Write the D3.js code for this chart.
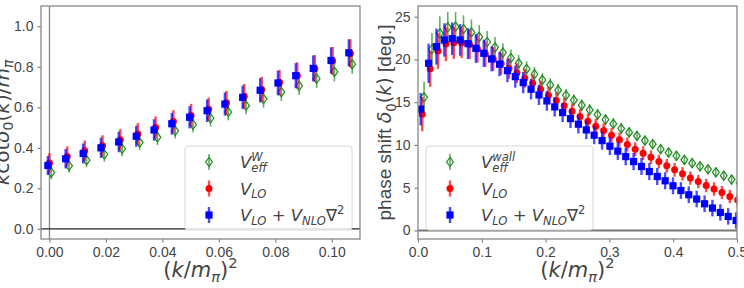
<!DOCTYPE html>
<html>
<head>
<meta charset="utf-8">
<script src="https://cdn.jsdelivr.net/npm/d3@7"></script>
<style>
body { margin: 0; background: #fff; }
svg text { font-family: "Liberation Sans", Arial, sans-serif; fill: #444; }
svg text.math { font-family: "DejaVu Sans", sans-serif; }
</style>
</head>
<body>
<svg id="chart" width="744" height="288"></svg>
<script>
// ---- left panel: k cot(delta_0)/m_pi vs (k/m_pi)^2
var k2Left = [0, 0.0063, 0.0125, 0.0188, 0.0251, 0.0313, 0.0376, 0.0439, 0.0502,
  0.0564, 0.0627, 0.069, 0.0752, 0.0815, 0.0878, 0.094, 0.1003, 0.1066]
var kcotWall = [0.278, 0.311, 0.339, 0.367, 0.395, 0.426, 0.452, 0.484, 0.515,
  0.546, 0.577, 0.608, 0.641, 0.675, 0.706, 0.741, 0.775, 0.813]
var kcotWallErr = [0.033, 0.034, 0.035, 0.035, 0.036, 0.037, 0.038, 0.038, 0.039,
  0.04, 0.041, 0.042, 0.043, 0.044, 0.045, 0.046, 0.047, 0.048]
var kcotLO = [0.325, 0.357, 0.385, 0.41, 0.44, 0.468, 0.5, 0.53, 0.56,
  0.59, 0.622, 0.655, 0.688, 0.722, 0.757, 0.792, 0.83, 0.866]
var kcotLOErr = [0.049, 0.05, 0.051, 0.052, 0.053, 0.054, 0.055, 0.056, 0.057,
  0.058, 0.059, 0.06, 0.062, 0.063, 0.065, 0.066, 0.068, 0.07]
var kcotNLO = [0.313, 0.346, 0.372, 0.4, 0.429, 0.457, 0.488, 0.519, 0.551,
  0.583, 0.616, 0.649, 0.684, 0.72, 0.756, 0.792, 0.831, 0.869]
var kcotNLOErr = [0.047, 0.048, 0.049, 0.05, 0.051, 0.052, 0.053, 0.054, 0.055,
  0.056, 0.057, 0.058, 0.06, 0.061, 0.062, 0.064, 0.065, 0.067]
var xTicksLeft = [0, 0.02, 0.04, 0.06, 0.08, 0.10]
var yTicksLeft = [0, 0.2, 0.4, 0.6, 0.8, 1.0]

// ---- right panel: phase shift delta_0(k) in degrees
var k2Right = [0.0067, 0.0191, 0.0314, 0.0438, 0.0561, 0.0685, 0.0809, 0.0932, 0.1056,
  0.1179, 0.1303, 0.1427, 0.155, 0.1674, 0.1797, 0.1921, 0.2045, 0.2168, 0.2292,
  0.2415, 0.2539, 0.2663, 0.2786, 0.291, 0.3033, 0.3157, 0.3281, 0.3404, 0.3528,
  0.3651, 0.3775, 0.3899, 0.4022, 0.4146, 0.4269, 0.4393, 0.4517, 0.464, 0.4764,
  0.4887, 0.5011]
var phaseWall = [15.58, 21.19, 23.06, 23.76, 23.83, 23.56, 23.17, 22.63, 22.04,
  21.42, 20.8, 20.17, 19.55, 18.89, 18.27, 17.6, 17.02, 16.4, 15.82,
  15.23, 14.65, 14.1, 13.55, 12.97, 12.47, 11.92, 11.47, 11.06, 10.51,
  10.09, 9.5, 9.11, 8.73, 8.26, 7.87, 7.5, 7.15, 6.8, 6.4,
  5.95, 5.55]
var phaseWallErr = [1.8, 1.9, 2.0, 1.8, 1.7, 1.6, 1.5, 1.4, 1.3,
  1.2, 1.1, 1.0, 0.95, 0.9, 0.85, 0.8, 0.78, 0.75, 0.72,
  0.7, 0.68, 0.66, 0.65, 0.64, 0.63, 0.62, 0.62, 0.61, 0.6,
  0.6, 0.6, 0.59, 0.59, 0.58, 0.58, 0.58, 0.57, 0.57, 0.57,
  0.56, 0.56]
var phaseLO = [13.6, 18.9, 21.0, 21.8, 21.96, 21.96, 21.75, 21.23, 20.64,
  20.06, 19.5, 18.95, 18.4, 17.8, 17.22, 16.5, 15.82, 15.19, 14.57,
  13.95, 13.32, 12.78, 12.2, 11.68, 11.14, 10.6, 10.05, 9.5, 9.04,
  8.57, 8.06, 7.56, 7.09, 6.62, 6.12, 5.72, 5.26, 4.84, 4.44,
  3.97, 3.55]
var phaseLOErr = [2.0, 2.1, 2.1, 2.0, 1.9, 1.8, 1.7, 1.6, 1.5,
  1.4, 1.3, 1.2, 1.15, 1.1, 1.05, 1.0, 0.97, 0.94, 0.92,
  0.9, 0.88, 0.86, 0.85, 0.84, 0.83, 0.82, 0.81, 0.8, 0.8,
  0.8, 0.79, 0.79, 0.79, 0.78, 0.78, 0.78, 0.78, 0.78, 0.78,
  0.78, 0.78]
var phaseNLO = [14.18, 19.55, 21.5, 22.28, 22.43, 22.28, 21.85, 21.3, 20.72,
  20.06, 19.44, 18.69, 17.99, 17.29, 16.52, 15.85, 15.15, 14.45, 13.79,
  13.08, 12.43, 11.76, 11.14, 10.51, 9.86, 9.28, 8.64, 8.06, 7.48,
  6.89, 6.31, 5.81, 5.22, 4.67, 4.17, 3.67, 3.12, 2.62, 2.1,
  1.64, 1.17]
var phaseNLOErr = [1.9, 2.3, 2.1, 1.95, 1.9, 1.85, 1.8, 1.7, 1.6,
  1.45, 1.4, 1.35, 1.3, 1.25, 1.2, 1.18, 1.15, 1.13, 1.12,
  1.1, 1.08, 1.07, 1.06, 1.05, 1.04, 1.03, 1.02, 1.01, 1.0,
  1.0, 1.0, 0.99, 0.99, 0.98, 0.98, 0.97, 0.97, 0.97, 0.96,
  0.96, 0.96]
var xTicksRight = [0, 0.1, 0.2, 0.3, 0.4, 0.5]
var yTicksRight = [0, 5, 10, 15, 20, 25]

var green = '#1f8a1f', red = '#ff0000', blue = '#0000ff'
var svg = d3.select('#chart')
var plotTop = 6, plotBottom = 239

// mathtext-like label; parts: {t, it, sub, sup, back, rm}
function mathText(sel, parts, size) {
  var t = sel.append('text').attr('class', 'math').style('font-size', size + 'px')
  var shift = 0, prev = null
  parts.forEach(function(p) {
    var target = p.sub ? 0.24 * size : (p.sup ? -0.42 * size : 0)
    var ts = t.append('tspan').text(p.t)
      .attr('dy', target - shift)
      .style('font-style', p.it ? 'italic' : 'normal')
      .style('font-size', (p.sub || p.sup ? 0.7 * size : size) + 'px')
    if (p.rm) ts.style('font-family', '"Liberation Sans", Arial, sans-serif')
    if (p.back && prev) ts.attr('dx', -prev.node().getComputedTextLength())
    shift = target
    prev = ts
  })
  return t
}

function marker(sel, shape, color) {
  if (shape == 'circle') {
    sel.append('circle').attr('r', 3.5).attr('fill', color)
  } else if (shape == 'square') {
    sel.append('rect').attr('x', -3.6).attr('y', -3.6).attr('width', 7.2).attr('height', 7.2).attr('fill', color)
  } else {
    sel.append('path').attr('d', 'M0,-4.6L3.4,0L0,4.6L-3.4,0Z')
      .attr('fill', 'none').attr('stroke', color).attr('stroke-width', 1.2)
  }
}

function panel(opt) {
  var g = svg.append('g')
  var x = d3.scaleLinear().domain(opt.xdom).range([opt.left, opt.right])
  var y = d3.scaleLinear().domain(opt.ydom).range([plotBottom, plotTop])

  svg.append('clipPath').attr('id', opt.id)
    .append('rect').attr('x', opt.left).attr('y', plotTop)
    .attr('width', opt.right - opt.left).attr('height', plotBottom - plotTop)

  var xa = g.append('g').attr('transform', 'translate(0,' + plotBottom + ')')
    .call(d3.axisBottom(x).tickValues(opt.xticks).tickFormat(d3.format(opt.xfmt)).tickSize(3.5).tickPadding(5))
  var ya = g.append('g').attr('transform', 'translate(' + opt.left + ',0)')
    .call(d3.axisLeft(y).tickValues(opt.yticks).tickFormat(d3.format(opt.yfmt)).tickSize(3.5).tickPadding(4))
  ;[xa, ya].forEach(function(a) {
    a.select('.domain').remove()
    a.selectAll('line').attr('stroke', '#777').attr('stroke-width', 1.1)
    a.selectAll('text').style('font-size', '14px').attr('fill', '#444')
      .style('font-family', '"Liberation Sans", Arial, sans-serif')
  })

  var data = g.append('g').attr('clip-path', 'url(#' + opt.id + ')')
  opt.refLines(data, x, y)

  opt.series.forEach(function(s) {
    var pts = s.x.map(function(d, i) { return {x: d, v: s.v[i], e: s.e[i]} })
    var sg = data.append('g')
    sg.selectAll('line.bar').data(pts).join('line').attr('class', 'bar')
      .attr('x1', function(d) { return x(d.x) + s.dodge })
      .attr('x2', function(d) { return x(d.x) + s.dodge })
      .attr('y1', function(d) { return y(d.v - d.e) })
      .attr('y2', function(d) { return y(d.v + d.e) })
      .attr('stroke', s.color).attr('stroke-width', s.barWidth).attr('stroke-opacity', 0.7)
    sg.selectAll('g.pt').data(pts).join('g').attr('class', 'pt')
      .attr('transform', function(d) { return 'translate(' + (x(d.x) + s.dodge) + ',' + y(d.v) + ')' })
      .each(function() { marker(d3.select(this), s.shape, s.color) })
  })

  g.append('rect').attr('x', opt.left).attr('y', plotTop)
    .attr('width', opt.right - opt.left).attr('height', plotBottom - plotTop)
    .attr('fill', 'none').attr('stroke', '#888').attr('stroke-width', 1.3)

  // legend
  var lg = g.append('g')
  lg.append('rect').attr('x', opt.legX).attr('y', 146).attr('width', 167).attr('height', 84)
    .attr('rx', 3).attr('fill', '#fff').attr('fill-opacity', 0.85)
    .attr('stroke', '#d8d8d8').attr('stroke-width', 1)
  var rows = [162, 188.5, 215]
  opt.series.forEach(function(s, i) {
    var hx = opt.legX + 24
    lg.append('line').attr('x1', hx).attr('x2', hx).attr('y1', rows[i] - 8).attr('y2', rows[i] + 8)
      .attr('stroke', s.color).attr('stroke-width', s.barWidth).attr('stroke-opacity', 0.7)
    marker(lg.append('g').attr('transform', 'translate(' + hx + ',' + rows[i] + ')'), s.shape, s.color)
    mathText(lg, s.label, 16.5).attr('x', opt.legX + 55).attr('y', rows[i] + 6)
  })

  mathText(g, [{t: '('}, {t: 'k', it: 1}, {t: '/'}, {t: 'm', it: 1}, {t: 'π', it: 1, sub: 1}, {t: ')'}, {t: '2', sup: 1}], 21)
    .attr('x', (opt.left + opt.right) / 2).attr('y', 277).attr('text-anchor', 'middle')
  return g
}

panel({
  id: 'clipL', left: 41, right: 360, xdom: [-0.003, 0.110], ydom: [-0.05, 1.1],
  xticks: xTicksLeft, yticks: yTicksLeft, xfmt: '.2f', yfmt: '.1f', legX: 185,
  refLines: function(g, x, y) {
    g.append('line').attr('x1', x(0)).attr('x2', x(0)).attr('y1', plotTop).attr('y2', plotBottom)
      .attr('stroke', '#888').attr('stroke-width', 1.3)
    g.append('line').attr('x1', 41).attr('x2', 360).attr('y1', y(0)).attr('y2', y(0))
      .attr('stroke', '#222').attr('stroke-width', 1.2)
  },
  series: [
    {x: k2Left, v: kcotWall, e: kcotWallErr, color: green, shape: 'diamond', dodge: 1.8, barWidth: 1.6,
      label: [{t: 'V', it: 1}, {t: 'eff', it: 1, sub: 1}, {t: 'W', it: 1, sup: 1, back: 1}]},
    {x: k2Left, v: kcotLO, e: kcotLOErr, color: red, shape: 'circle', dodge: 0, barWidth: 2.4,
      label: [{t: 'V', it: 1}, {t: 'LO', it: 1, sub: 1}]},
    {x: k2Left, v: kcotNLO, e: kcotNLOErr, color: blue, shape: 'square', dodge: -1.6, barWidth: 2.4,
      label: [{t: 'V', it: 1}, {t: 'LO', it: 1, sub: 1}, {t: ' + '}, {t: 'V', it: 1}, {t: 'NLO', it: 1, sub: 1}, {t: '∇'}, {t: '2', sup: 1}]}
  ]
})

panel({
  id: 'clipR', left: 418, right: 737, xdom: [0, 0.5], ydom: [-1, 26.25],
  xticks: xTicksRight, yticks: yTicksRight, xfmt: '.1f', yfmt: 'd', legX: 426,
  refLines: function(g, x, y) {
    g.append('line').attr('x1', 418).attr('x2', 737).attr('y1', y(0)).attr('y2', y(0))
      .attr('stroke', '#777').attr('stroke-width', 2)
  },
  series: [
    {x: k2Right, v: phaseWall, e: phaseWallErr, color: green, shape: 'diamond', dodge: 1.8, barWidth: 1.6,
      label: [{t: 'V', it: 1}, {t: 'eff', it: 1, sub: 1}, {t: 'wall', it: 1, sup: 1, back: 1}]},
    {x: k2Right, v: phaseLO, e: phaseLOErr, color: red, shape: 'circle', dodge: 0, barWidth: 2.4,
      label: [{t: 'V', it: 1}, {t: 'LO', it: 1, sub: 1}]},
    {x: k2Right, v: phaseNLO, e: phaseNLOErr, color: blue, shape: 'square', dodge: -1.6, barWidth: 2.4,
      label: [{t: 'V', it: 1}, {t: 'LO', it: 1, sub: 1}, {t: ' + '}, {t: 'V', it: 1}, {t: 'NLO', it: 1, sub: 1}, {t: '∇'}, {t: '2', sup: 1}]}
  ]
})

// y labels
mathText(svg, [{t: 'k', it: 1}, {t: 'cot'}, {t: 'δ', it: 1}, {t: '0', sub: 1}, {t: '('}, {t: 'k', it: 1},
  {t: ')/'}, {t: 'm', it: 1}, {t: 'π', it: 1, sub: 1}], 20)
  .attr('text-anchor', 'middle').attr('transform', 'translate(8.5,122.5) rotate(-90)')
mathText(svg, [{t: 'phase shift ', rm: 1}, {t: 'δ', it: 1}, {t: '0', sub: 1}, {t: '('}, {t: 'k', it: 1},
  {t: ')'}, {t: ' [deg.]', rm: 1}], 19)
  .attr('text-anchor', 'middle').attr('transform', 'translate(391,122.5) rotate(-90)')
</script>
</body>
</html>
